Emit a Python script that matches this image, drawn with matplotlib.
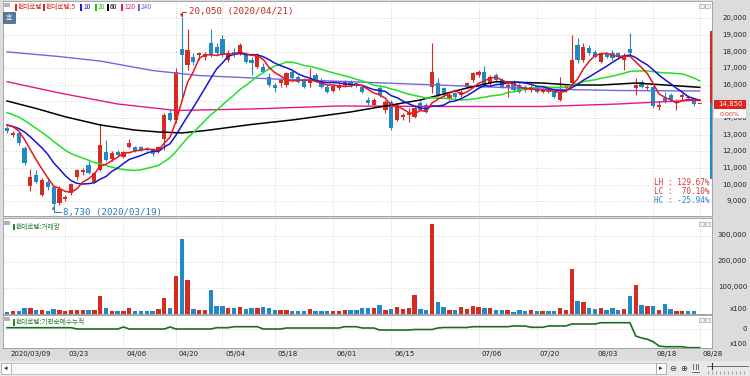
import matplotlib
matplotlib.use('Agg')
import matplotlib.pyplot as plt
import matplotlib.transforms as mtrans
from matplotlib.patches import Rectangle
from matplotlib import font_manager
import numpy as np
import pandas as pd

# ---------------- data ----------------
tick_idx = [0, 10, 20, 29, 37, 46, 56, 66, 81, 91, 101, 111, 119]
tick_lbl = ['2020/03/09', '03/23', '04/06', '04/20', '05/04', '05/18', '06/01',
            '06/15', '07/06', '07/20', '08/03', '08/18', '08/28']

opens = [13400, 13000, 13090, 12220, 9920, 10580, 9390, 10150, 9860, 8900,
         9150, 9500, 10460, 10760, 11180, 10180, 10880, 11990, 11540, 11950,
         11660, 12280, 12280, 12250, 12200, 12080, 12000, 12730, 14300, 13890,
         18140, 17190, 17690, 17800, 17700, 18530, 18290, 18740, 17500, 18000,
         17900, 17790, 17500, 17090, 17090, 16490, 15990, 16090, 15990, 16790,
         16490, 16290, 16090, 16590, 16290, 15890, 15640, 15800, 16000, 16190,
         16100, 15890, 15090, 14790, 15810, 14490, 14990, 13890, 14090, 14200,
         14090, 14910, 14790, 15890, 16090, 15790, 15200, 15490, 15390, 15890,
         16290, 16590, 16790, 16090, 16590, 16290, 15890, 16190, 16000, 15890,
         15690, 15790, 15590, 15750, 15590, 15090, 15790, 16090, 18400, 17490,
         18200, 18000, 17390, 17900, 17900, 17900, 17500, 18140, 15790, 16190,
         15790, 15870, 14690, 15200, 15390, 14900, 15250, 15300, 15090, 14850]
highs = [13550, 13250, 13150, 12300, 10940, 10900, 10400, 10400, 9950, 9900,
         9400, 10100, 10950, 11000, 11400, 10750, 13640, 12690, 12000, 12100,
         12050, 12730, 12350, 12300, 12250, 12150, 12300, 14300, 14500, 17000,
         20050, 19350, 17900, 18000, 18000, 19340, 18500, 19000, 18100, 18200,
         18500, 18000, 17700, 17900, 17300, 16700, 16100, 16400, 16800, 16900,
         16600, 16400, 17000, 16700, 16400, 16000, 16000, 16100, 16300, 16300,
         16200, 16000, 15300, 15200, 16000, 15100, 15100, 14900, 14300, 14610,
         14700, 15000, 14900, 18530, 16400, 15900, 15500, 15600, 15700, 16200,
         16800, 16900, 17130, 16600, 16700, 16400, 16100, 16300, 16100, 16000,
         16000, 15900, 15800, 15800, 15700, 16490, 16000, 19000, 18800, 18500,
         18400, 18100, 18000, 18000, 18100, 18000, 17900, 19100, 16400, 16300,
         16000, 15950, 15000, 15600, 15500, 15150, 15500, 15400, 15200, 14850]
lows = [13100, 12850, 12400, 11200, 9650, 10100, 9300, 9700, 8730, 8800,
        9000, 9400, 10300, 10600, 10650, 10100, 10800, 11400, 11450, 11700,
        11600, 12200, 11950, 12000, 12000, 11750, 11900, 12100, 13800, 13700,
        15290, 16900, 17200, 17500, 17500, 17700, 17800, 17700, 17400, 17700,
        17800, 17300, 16600, 17000, 16700, 15900, 15600, 15900, 15900, 16300,
        16100, 15800, 15900, 16200, 15800, 15500, 15550, 15700, 15900, 15900,
        15900, 15500, 14800, 14700, 15300, 14300, 13300, 13800, 13900, 13790,
        14000, 14400, 14300, 15500, 15300, 15300, 15100, 15200, 15300, 15800,
        16200, 16500, 15900, 16000, 16200, 15800, 15290, 15600, 15500, 15600,
        15600, 15500, 15500, 15500, 15200, 15000, 15600, 16000, 17300, 17400,
        17800, 17600, 17300, 17600, 17500, 17600, 16900, 17800, 15400, 15800,
        15700, 14600, 14500, 14900, 15000, 14500, 15100, 15100, 14750, 14850]
closes = [13200, 13080, 12490, 11290, 10440, 10180, 10280, 9850, 8840, 9740,
          9260, 10040, 10880, 10880, 10700, 10720, 12390, 11480, 11900, 11800,
          11950, 12490, 12040, 12100, 12100, 11840, 12250, 14190, 13890, 16790,
          17790, 18090, 17390, 17900, 17850, 17790, 17900, 17790, 17940, 17850,
          18400, 17390, 17300, 17790, 16790, 15990, 15790, 16290, 16690, 16390,
          16190, 15890, 16290, 16290, 15890, 15590, 15930, 16000, 16150, 15990,
          16000, 15590, 14900, 15090, 15390, 14990, 13390, 14790, 14190, 14300,
          14590, 14490, 14390, 16790, 15390, 15490, 15390, 15290, 15590, 16090,
          16700, 16790, 15990, 16490, 16290, 15890, 15990, 15690, 15600, 15690,
          15890, 15590, 15700, 15600, 15250, 15590, 15890, 17490, 17490, 18300,
          17900, 17700, 17900, 17700, 17600, 17700, 17700, 17900, 16000, 15890,
          15890, 14700, 14800, 14970, 15090, 15000, 15390, 15190, 14850, 14850]
# closes of the sessions before 2020/03/09 (estimated so that the averages start where drawn)
pre_closes = [15500, 15400, 15350, 15200, 15100, 15000, 14900, 14800, 14750, 14700,
              14000, 13700, 13400, 13350, 13500, 13600, 13750, 13900, 13500]

volumes = [6000, 10000, 10000, 20000, 23000, 13000, 13000, 10000, 18000, 15000,
           10000, 14000, 15000, 12000, 13000, 12000, 67000, 20000, 10000, 10000,
           10000, 20000, 9000, 9000, 8000, 8000, 18000, 59000, 20000, 143000,
           287000, 128000, 17000, 13000, 15000, 92000, 28000, 28000, 20000, 20000,
           24000, 18000, 20000, 20000, 26000, 20000, 12000, 15000, 13000, 8000,
           8000, 8000, 18000, 10000, 10000, 8000, 10000, 10000, 12000, 12000,
           13000, 20000, 20000, 20000, 33000, 15000, 18000, 26000, 18000, 20000,
           72000, 18000, 15000, 344000, 45000, 26000, 15000, 15000, 26000, 18000,
           28000, 26000, 20000, 20000, 12000, 13000, 13000, 6000, 12000, 10000,
           13000, 10000, 10000, 8000, 10000, 22000, 13000, 171000, 49000, 46000,
           20000, 18000, 20000, 12000, 20000, 15000, 18000, 67000, 108000, 33000,
           27000, 27000, 13000, 36000, 19000, 8000, 8000, 8000, 10000, 0]

inst_cum = [13, 13, 13, 13, 13, 13, 13, 13, 13, 13, 13, 13,
            0, 0, 0, 0, 0, 0, 0, 0,
            20, 0, 0, 0, 0, 0, 0, 0, 20,
            0, 0, 0, 0, 0, 0, 0,
            13, 13, 13, 23, 23, 23, 23, 23,
            0, 0, 0, 0,
            10, 10, 10, 10, 10, 10, 10, 10, 10, 10,
            23, 23, 23, 10, 10, 10,
            -10, -10, -10, -10, -10, -10, -5, -5, -5, -5,
            10, 15, 15, 15, 15, 15,
            23, 23, 23, 23, 23, 23, 23, 30, 30, 30, 17, 17, 17,
            30, 30, 30, 30, 50, 50, 50, 50, 50,
            63, 63, 63, 63, 63, 63,
            -70, -90, -103, -127, -170, -177, -177, -177, -177, -187, -187, -187]

ma60_idx = [0, 5, 10, 16, 22, 26, 30, 34, 42, 49, 59, 71, 79, 84, 92, 97, 102, 108, 119]
ma60_val = [15030, 14580, 14080, 13590, 13280, 13170, 13110, 13250, 13620, 13890,
            14370, 15090, 15810, 16190, 16110, 15990, 15990, 16110, 15850]
ma120_idx = [0, 9, 19, 29, 42, 57, 76, 92, 105, 119]
ma120_val = [16190, 15510, 14850, 14460, 14550, 14730, 14700, 14700, 14850, 15090]
ma240_idx = [0, 9, 16, 25, 33, 46, 59, 74, 92, 105, 119]
ma240_val = [17980, 17700, 17430, 16860, 16560, 16350, 16190, 15990, 15750, 15660, 15630]

high_txt = '20,050 (2020/04/21)'
low_txt = '8,730 (2020/03/19)'
stats = [('LH : 129.67%', 'up'), ('LC :  70.10%', 'up'), ('HC : -25.94%', 'dn')]
band_high, band_low = 19200, 10400
last_price_txt, last_chg_txt = '14,850', '0.00%'

legend_items = [('현대로템', '#d42a20'), ('현대로템:5', '#d42a20'), ('10', '#1b1bd6'),
                ('20', '#19c419'), ('60', '#000000'), ('120', '#e01d7c'), ('240', '#6f62dc')]

# ---------------- style ----------------
RED = '#d52b21'
BLUE = '#2189c7'
C_MA5, C_MA10, C_MA20 = '#e8161b', '#1414d2', '#22e022'
C_MA60, C_MA120, C_MA240 = '#000000', '#e8177f', '#7366e0'
GRID = '#c9c9c9'
names = {f.name for f in font_manager.fontManager.ttflist}
NARROW = 'Liberation Sans Narrow' if 'Liberation Sans Narrow' in names else 'DejaVu Sans'
NSZ = 6.4 if NARROW != 'DejaVu Sans' else 5.0
KR = ['Noto Sans CJK KR', 'DejaVu Sans']
MONO = 'DejaVu Sans Mono'

W, H = 750, 376
fig = plt.figure(figsize=(7.5, 3.76), dpi=100, facecolor='#dcdcdc')


def add_ax(l, t, r, b):
    ax = fig.add_axes([l / W, 1 - b / H, (r - l) / W, (b - t) / H])
    ax.set_facecolor('white')
    ax.set_xticks([]); ax.set_yticks([])
    for s in ax.spines.values():
        s.set_color('#9a9a9a'); s.set_linewidth(0.6)
    return ax


def fpx(x, y):
    return x / W, 1 - y / H


def frect(x0, y0, x1, y1, **kw):
    fig.patches.append(Rectangle(fpx(x0, y1), (x1 - x0) / W, (y1 - y0) / H,
                                 transform=fig.transFigure, **kw))


def fline(xs, ys, **kw):
    fig.add_artist(plt.Line2D([x / W for x in xs], [1 - y / H for y in ys],
                              transform=fig.transFigure, **kw))


n = len(closes)
idx = np.arange(n)
o = np.array(opens, float); h = np.array(highs, float)
l = np.array(lows, float); c = np.array(closes, float)
up = c >= o
cols = np.where(up, RED, BLUE)
XL = (-0.7, 121.1)

# ---------------- price panel ----------------
axp = add_ax(3, 1, 712, 216)
axp.set_xlim(XL)
axp.set_ylim(8118, 21040)
for p in range(9000, 21000, 1000):
    axp.axhline(p, color=GRID, lw=0.6, ls=(0, (1, 2)), zorder=0)
for t in tick_idx[1:]:
    axp.axvline(t, color=GRID, lw=0.6, ls=(0, (1, 2)), zorder=0)

axp.vlines(idx, l, h, colors=cols, lw=0.8, zorder=2)
body_bot = np.minimum(o, c)
body_h = np.maximum(np.abs(c - o), 70)
axp.bar(idx, body_h, bottom=body_bot, width=0.72, color=cols, linewidth=0, zorder=2)

allc = pd.Series(pre_closes + closes, dtype=float)
npre = len(pre_closes)
ma5 = allc.rolling(5).mean().values[npre:]
ma10 = allc.rolling(10).mean().values[npre:]
ma20 = allc.rolling(20).mean().values[npre:]
axp.plot(ma240_idx, ma240_val, color=C_MA240, lw=1.0, zorder=3)
axp.plot(ma120_idx, ma120_val, color=C_MA120, lw=1.0, zorder=3)
axp.plot(ma60_idx, ma60_val, color=C_MA60, lw=1.1, zorder=3)
axp.plot(idx, ma20, color=C_MA20, lw=1.1, zorder=4)
axp.plot(idx, ma10, color=C_MA10, lw=1.1, zorder=4)
axp.plot(idx, ma5, color=C_MA5, lw=1.1, zorder=5)

# high / low annotations
ih = int(np.argmax(h)); il = int(np.argmin(l))
axp.annotate(high_txt, xy=(ih, h[ih]), xytext=(5, 4), textcoords='offset points',
             color='#c8281e', fontsize=6.6, family=MONO, va='center', ha='left',
             arrowprops=dict(arrowstyle='-|>,head_length=0.25,head_width=0.12', color='#c8281e',
                             lw=0.7, connectionstyle='angle,angleA=0,angleB=90,rad=0',
                             shrinkA=0, shrinkB=0), zorder=6)
axp.annotate(low_txt, xy=(il, l[il]), xytext=(7, -4.5), textcoords='offset points',
             color='#2f78bd', fontsize=6.6, family=MONO, va='center', ha='left',
             arrowprops=dict(arrowstyle='-|>,head_length=0.25,head_width=0.12', color='#2f78bd',
                             lw=0.7, connectionstyle='angle,angleA=0,angleB=90,rad=0',
                             shrinkA=0, shrinkB=0), zorder=6)

# stats box
for k, (s, kind) in enumerate(stats):
    axp.text(0.996, 0.158 - k * 0.042, s, transform=axp.transAxes, ha='right', va='center',
             fontsize=5.6, family=MONO, color=('#d33a30' if kind == 'up' else '#2f86c4'))

# right price labels
bt = mtrans.blended_transform_factory(fig.transFigure, axp.transData)
last = closes[-1]
for p in range(9000, 21000, 1000):
    if abs(p - last) < 450:
        continue
    fig.text(747 / W, p, f'{p:,}', transform=bt, ha='right', va='center',
             fontsize=NSZ, family=NARROW, color='#222222', zorder=3)
# current price band
axp.plot([711.2 / W] * 2, [last, band_high], transform=bt, color=RED, lw=1.5, clip_on=False, zorder=7)
axp.plot([711.2 / W] * 2, [band_low, last], transform=bt, color=BLUE, lw=1.5, clip_on=False, zorder=7)
frect(714, 99.5, 746, 109, fc='#e0231b', ec='none', zorder=4)
fig.text(730 / W, last, last_price_txt, transform=bt, ha='center', va='center', fontsize=NSZ,
         family=NARROW, color='white', zorder=5)
frect(714, 109.5, 746, 117.5, fc='white', ec='none', zorder=4)
fig.text(730 / W, last - 640, last_chg_txt, transform=bt, ha='center', va='center', fontsize=NSZ - 0.4,
         family=NARROW, color='#e0231b', zorder=5)
axp.plot([715.5 / W], [last], transform=bt, marker='<', ms=3, color='#e0231b', clip_on=False)

# ---------------- volume panel ----------------
axv = add_ax(3, 218, 712, 313.5)
axv.set_xlim(XL)
axv.set_ylim(0, (313.5 - 218) / 26 * 100000)
for v in (100000, 200000, 300000):
    axv.axhline(v, color=GRID, lw=0.6, ls=(0, (1, 2)), zorder=0)
for t in tick_idx[1:]:
    axv.axvline(t, color=GRID, lw=0.6, ls=(0, (1, 2)), zorder=0)
axv.bar(idx, volumes, width=0.75, color=cols, linewidth=0, zorder=2)
bv = mtrans.blended_transform_factory(fig.transFigure, axv.transData)
for v in (100000, 200000, 300000):
    fig.text(747 / W, v, f'{v:,}', transform=bv, ha='right', va='center',
             fontsize=NSZ, family=NARROW, color='#222222')
fig.text(747 / W, 17000, 'x100', transform=bv, ha='right', va='center',
         fontsize=NSZ, family=NARROW, color='#222222')

# ---------------- institution panel ----------------
axi = add_ax(3, 315, 712, 348)
axi.set_xlim(XL)
axi.set_ylim(-190, 140)
axi.axhline(0, color=GRID, lw=0.6, ls=(0, (1, 2)), zorder=0)
for t in tick_idx[1:]:
    axi.axvline(t, color=GRID, lw=0.6, ls=(0, (1, 2)), zorder=0)
axi.plot(idx, inst_cum, color='#1b6e1b', lw=1.2, zorder=3)
bi = mtrans.blended_transform_factory(fig.transFigure, axi.transData)
fig.text(747 / W, 0, '0', transform=bi, ha='right', va='center',
         fontsize=NSZ, family=NARROW, color='#222222')
fig.text(747 / W, -150, 'x100', transform=bi, ha='right', va='center',
         fontsize=NSZ, family=NARROW, color='#222222')

# ---------------- date labels ----------------
bd = mtrans.blended_transform_factory(axp.transData, fig.transFigure)
for t, s in zip(tick_idx, tick_lbl):
    tr = mtrans.offset_copy(bd, fig=fig, x=3, y=0, units='dots')
    fig.text(t, 1 - 354 / H, s, transform=tr, ha='left', va='center',
             fontsize=NSZ, family=NARROW, color='#222222')

# ---------------- headers / decorations ----------------
frect(3, 3, 10, 7, fc='#b4b4b4', ec='none')
frect(3, 12, 15, 23, fc='#56799f', ec='#3d5a7a', lw=0.5)
fig.text(*fpx(9, 17.5), '호', ha='center', va='center', fontsize=5, family=KR, color='white')
lx = [15, 43, 80, 95, 107, 121, 138]
for (s, col), x in zip(legend_items, lx):
    frect(x, 3.5, x + 2, 10.5, fc=col, ec='none')
    fig.text(*fpx(x + 3, 7.3), s, ha='left', va='center', fontsize=4.8, family=KR, color=col)

frect(3, 221, 10, 225, fc='#b4b4b4', ec='none')
frect(13, 223.5, 15, 230, fc='#2e7d32', ec='none')
fig.text(*fpx(16, 227), '현대로템:거래량', ha='left', va='center', fontsize=4.8, family=KR, color='#2e7d32')
frect(3, 317, 10, 321, fc='#b4b4b4', ec='none')
frect(13, 319, 15, 325.5, fc='#2e7d32', ec='none')
fig.text(*fpx(16, 322), '현대로템:기관순매수누적', ha='left', va='center', fontsize=4.8, family=KR, color='#2e7d32')

for yy in (4, 222, 318):
    frect(699, yy, 703.5, yy + 4, fc='#eeeeee', ec='#999999', lw=0.4)
    frect(705, yy, 709.5, yy + 4, fc='#eeeeee', ec='#999999', lw=0.4)

# scrollbar row
frect(0, 361, 750, 376, fc='#e9e9e9', ec='none')
frect(1, 363, 11, 374, fc='white', ec='#9a9a9a', lw=0.5)
fig.text(*fpx(6, 368.5), '◂', ha='center', va='center', fontsize=5, color='#222222')
frect(11, 363, 656, 374, fc='#f7f7f7', ec='#b0b0b0', lw=0.5)
frect(656, 363, 666, 374, fc='white', ec='#9a9a9a', lw=0.5)
fig.text(*fpx(661, 368.5), '▸', ha='center', va='center', fontsize=5, color='#222222')
fig.text(*fpx(673, 368.5), '⊖', ha='center', va='center', fontsize=6, color='#333333')
fig.text(*fpx(684, 368.5), '⊕', ha='center', va='center', fontsize=6, color='#333333')
for xx in (693, 695.5, 698):
    fline([xx, xx], [364, 369], color='#333333', lw=0.5)
fline([692, 699], [372, 372], color='#333333', lw=0.5)
fline([707, 748], [366, 366], color='#555555', lw=0.6)
fline([712, 712], [363, 369], color='#333333', lw=0.8)
for xx in range(708, 748, 4):
    fline([xx, xx], [371, 374], color='#777777', lw=0.4)

fig.savefig('out.png', dpi=100, facecolor=fig.get_facecolor())
